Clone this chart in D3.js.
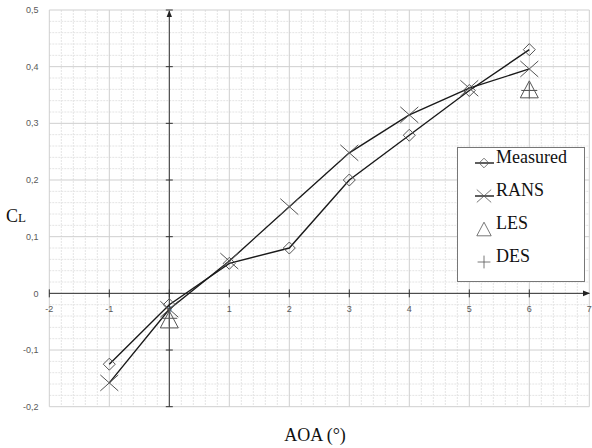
<!DOCTYPE html>
<html>
<head>
<meta charset="utf-8">
<script src="https://cdn.jsdelivr.net/npm/d3@7"></script>
<style>
  body { margin: 0; background: #fff; }
  svg { display: block; }
  .tick-label { font-family: "Liberation Sans", "DejaVu Sans", sans-serif; font-size: 9px; fill: #595959; }
  .title { font-family: "Liberation Serif", "DejaVu Serif", serif; fill: #111; }
</style>
</head>
<body>
<div id="chart"></div>
<script>
// data
var aoa = [-1, 0, 1, 2, 3, 4, 5, 6];
var measured = [-0.125, -0.02, 0.053, 0.08, 0.2, 0.279, 0.358, 0.43];
var rans = [-0.158, -0.028, 0.057, 0.153, 0.248, 0.315, 0.362, 0.396];
var lesAoa = [0, 6];
var les = [-0.046, 0.36];
var desAoa = [0, 6];
var des = [-0.044, 0.358];
var xTicks = [-2, -1, 0, 1, 2, 3, 4, 5, 6, 7];
var yTicks = [-0.2, -0.1, 0, 0.1, 0.2, 0.3, 0.4, 0.5];

var svgWidth = 592;
var svgHeight = 448;

var plot = { left: 49.3, right: 589.3, top: 10, bottom: 406.7 };

var svg = d3.select("#chart")
    .append("svg")
    .attr("width", svgWidth)
    .attr("height", svgHeight);

var x = d3.scaleLinear().domain([-2, 7]).range([plot.left, plot.right]);
var y = d3.scaleLinear().domain([-0.2, 0.5]).range([plot.bottom, plot.top]);

var loc = d3.formatLocale({ decimal: ",", thousands: ".", grouping: [3], currency: ["", ""], minus: "-" });
var fmtY = function (d) { return Math.abs(d) < 1e-9 ? "0" : loc.format(".1f")(d); };
var fmtX = loc.format("d");

// minor grid (every 0.2 on x, 0.02 on y)
var minorX = d3.range(-2, 7.001, 0.2).filter(v => Math.abs(v - Math.round(v)) > 1e-6);
var minorY = d3.range(-0.2, 0.5001, 0.02).filter(v => Math.abs(v * 10 - Math.round(v * 10)) > 1e-6);

var grid = svg.append("g");
grid.selectAll(".mx").data(minorX).enter().append("line")
    .attr("x1", d => x(d)).attr("x2", d => x(d))
    .attr("y1", plot.top).attr("y2", plot.bottom)
    .attr("stroke", "#e4e4e4").attr("stroke-dasharray", "2,1");
grid.selectAll(".my").data(minorY).enter().append("line")
    .attr("x1", plot.left).attr("x2", plot.right)
    .attr("y1", d => y(d)).attr("y2", d => y(d))
    .attr("stroke", "#e4e4e4").attr("stroke-dasharray", "2,1");
grid.selectAll(".Mx").data(xTicks).enter().append("line")
    .attr("x1", d => x(d)).attr("x2", d => x(d))
    .attr("y1", plot.top).attr("y2", plot.bottom)
    .attr("stroke", "#cfcfcf");
grid.selectAll(".My").data(yTicks).enter().append("line")
    .attr("x1", plot.left).attr("x2", plot.right)
    .attr("y1", d => y(d)).attr("y2", d => y(d))
    .attr("stroke", "#cfcfcf");

// tick labels
svg.append("g").selectAll("text").data(yTicks).enter().append("text")
    .attr("class", "tick-label")
    .attr("x", 38.5).attr("y", d => y(d)).attr("dy", "0.35em")
    .attr("text-anchor", "end")
    .text(fmtY);
svg.append("g").selectAll("text").data(xTicks).enter().append("text")
    .attr("class", "tick-label")
    .attr("x", d => x(d)).attr("y", y(0) + 15).attr("dy", "0.35em")
    .attr("text-anchor", "middle")
    .text(fmtX);

// axes through the origin
svg.append("defs").append("marker")
    .attr("id", "arrow").attr("viewBox", "0 0 10 10")
    .attr("refX", 9).attr("refY", 5)
    .attr("markerWidth", 7).attr("markerHeight", 7)
    .attr("orient", "auto")
    .append("path").attr("d", "M0,1 L10,5 L0,9 Z").attr("fill", "#222");

var axes = svg.append("g").attr("stroke", "#333").attr("stroke-width", 1);
axes.append("line")
    .attr("x1", x(0)).attr("x2", x(0))
    .attr("y1", plot.bottom).attr("y2", plot.top + 1)
    .attr("marker-end", "url(#arrow)");
axes.append("line")
    .attr("x1", plot.left).attr("x2", plot.right)
    .attr("y1", y(0)).attr("y2", y(0))
    .attr("marker-end", "url(#arrow)");
axes.selectAll(".yt").data(yTicks).enter().append("line")
    .attr("x1", x(0) - 3.5).attr("x2", x(0) + 3.5)
    .attr("y1", d => y(d)).attr("y2", d => y(d));
axes.selectAll(".xt").data(xTicks.filter(d => d !== 7)).enter().append("line")
    .attr("x1", d => x(d)).attr("x2", d => x(d))
    .attr("y1", y(0) - 4).attr("y2", y(0) + 4);

// series lines
var line = d3.line().x(d => x(d[0])).y(d => y(d[1]));
var mData = aoa.map((a, i) => [a, measured[i]]);
var rData = aoa.map((a, i) => [a, rans[i]]);

svg.append("path").datum(mData).attr("d", line)
    .attr("fill", "none").attr("stroke", "#1a1a1a").attr("stroke-width", 1.4);
svg.append("path").datum(rData).attr("d", line)
    .attr("fill", "none").attr("stroke", "#1a1a1a").attr("stroke-width", 1.4);

// marker shapes
function diamond(g, cx, cy) {
    g.append("path")
        .attr("d", `M${cx},${cy - 6}L${cx + 6},${cy}L${cx},${cy + 6}L${cx - 6},${cy}Z`)
        .attr("fill", "none").attr("stroke", "#555").attr("stroke-width", 1);
}
function cross(g, cx, cy) {
    g.append("path")
        .attr("d", `M${cx - 9},${cy - 8}L${cx + 9},${cy + 8}M${cx - 9},${cy + 8}L${cx + 9},${cy - 8}`)
        .attr("stroke", "#555").attr("stroke-width", 1);
}
function triangle(g, cx, cy) {
    g.append("path")
        .attr("d", `M${cx},${cy - 8.5}L${cx + 9},${cy + 8.5}L${cx - 9},${cy + 8.5}Z`)
        .attr("fill", "none").attr("stroke", "#555").attr("stroke-width", 1);
}
function plus(g, cx, cy) {
    g.append("path")
        .attr("d", `M${cx - 8},${cy}L${cx + 8},${cy}M${cx},${cy - 8}L${cx},${cy + 8}`)
        .attr("stroke", "#555").attr("stroke-width", 1);
}

var marks = svg.append("g");
mData.forEach(d => diamond(marks, x(d[0]), y(d[1])));
rData.forEach(d => cross(marks, x(d[0]), y(d[1])));
lesAoa.forEach((a, i) => triangle(marks, x(a), y(les[i])));
desAoa.forEach((a, i) => plus(marks, x(a), y(des[i])));

// legend
var lg = svg.append("g");
lg.append("rect")
    .attr("x", 457.5).attr("y", 147.5).attr("width", 127).attr("height", 134)
    .attr("fill", "#fff").attr("stroke", "#777");
var legendItems = [
    { name: "Measured", draw: diamond, line: true },
    { name: "RANS", draw: cross, line: true },
    { name: "LES", draw: triangle, line: false },
    { name: "DES", draw: plus, line: false }
];
legendItems.forEach(function (it, i) {
    var cy = 163 + i * 33;
    if (it.line) {
        lg.append("line").attr("x1", 475).attr("x2", 494).attr("y1", cy).attr("y2", cy)
            .attr("stroke", "#1a1a1a").attr("stroke-width", 1.4);
    }
    var s = lg.append("g").attr("transform", `translate(${484},${cy}) scale(0.8) translate(${-484},${-cy})`);
    it.draw(s, 484, cy);
    lg.append("text").attr("class", "title")
        .attr("x", 496).attr("y", cy)
        .attr("font-size", 18)
        .text(it.name);
});

// axis titles
var cl = svg.append("text").attr("class", "title").attr("x", 6).attr("y", 222);
cl.append("tspan").attr("font-size", 18).text("C");
cl.append("tspan").attr("font-size", 13).text("L");

svg.append("text").attr("class", "title")
    .attr("x", 315).attr("y", 441)
    .attr("text-anchor", "middle")
    .attr("font-size", 18)
    .text("AOA (°)");
</script>
</body>
</html>
